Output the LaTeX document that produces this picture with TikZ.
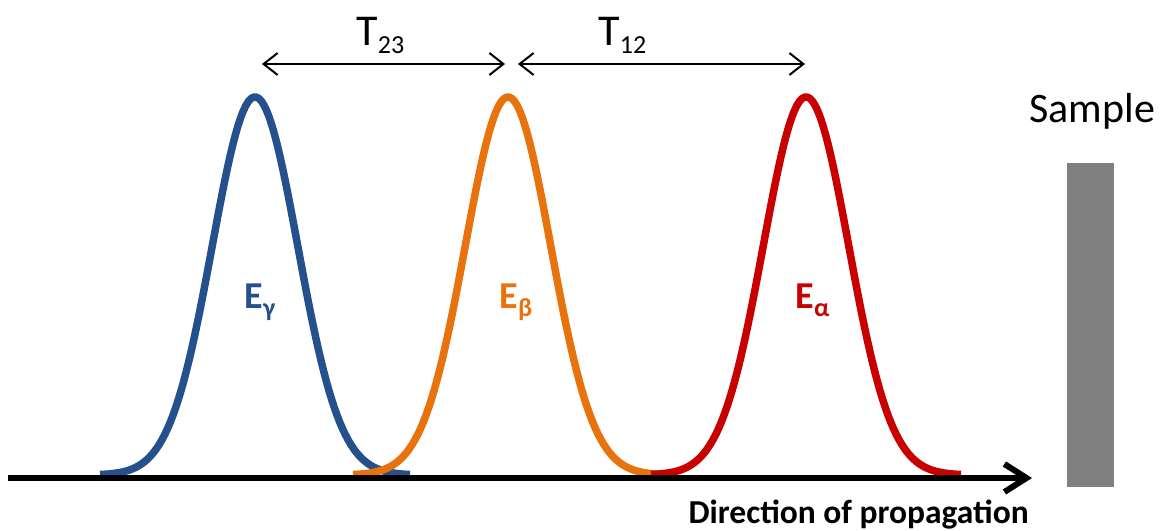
\documentclass[tikz,border=0pt]{standalone}
\usepackage{fontspec}
\setmainfont{Carlito}
\usepackage{xcolor}
\usetikzlibrary{arrows.meta}
\definecolor{pulseblue}{HTML}{24508C}
\definecolor{pulseorange}{HTML}{E8720C}
\definecolor{pulsered}{HTML}{C80000}
\newcommand{\lowsub}[1]{\raisebox{-8pt}{\fontsize{26}{28}\selectfont #1}}

\begin{document}
\begin{tikzpicture}[x=1pt,y=-1pt,
  pulse/.style={line width=7.5pt,line join=round},
  timearrow/.style={line width=2pt,
    {Straight Barb[length=14pt,width=22pt]}-{Straight Barb[length=14pt,width=22pt]}}]
\useasboundingbox (0,0) rectangle (1161,530);
% the three pulses
\draw[pulse,pulseblue] plot[domain=-155:155,samples=120]
  ({255+\x},{475-378*exp(-(\x/60.4)^2)});
\draw[pulse,pulseorange] plot[domain=-155:155,samples=120]
  ({508+\x},{475-378*exp(-(\x/60.4)^2)});
\draw[pulse,pulsered] plot[domain=-155:155,samples=120]
  ({806+\x},{475-378*exp(-(\x/60.4)^2)});
% propagation axis
\coordinate (start) at (8,478);
\coordinate (tip) at (1032,478);
\draw[line width=6pt,-{Straight Barb[length=22pt,width=28pt]}] (start) -- (tip);
\node[anchor=base west,font=\bfseries\fontsize{33.5}{36}\selectfont] (dir) at (685,523)
  {Direction of propagation};
% delays
\coordinate (g) at (262,64);
\coordinate (bl) at (505,64);
\coordinate (br) at (518,64);
\coordinate (a) at (805,64);
\draw[timearrow] (g) -- (bl);
\draw[timearrow] (br) -- (a);
\node[anchor=base west,font=\fontsize{44}{46}\selectfont] (t23) at (353,45) {T\lowsub{23}};
\node[anchor=base west,font=\fontsize{44}{46}\selectfont] (t12) at (595,45) {T\lowsub{12}};
% field labels
\node[anchor=base west,pulseblue,font=\bfseries\fontsize{38}{40}\selectfont] (eg) at (241,308)
  {E\lowsub{γ}};
\node[anchor=base west,pulseorange,font=\bfseries\fontsize{38}{40}\selectfont] (eb) at (496,308)
  {E\lowsub{β}};
\node[anchor=base west,pulsered,font=\bfseries\fontsize{38}{40}\selectfont] (ea) at (792,308)
  {E\lowsub{α}};
% sample
\node[anchor=base west,font=\fontsize{42}{44}\selectfont] (smp) at (1026,122) {Sample};
\fill[gray] (1067,163) rectangle (1114,487);
\end{tikzpicture}
\end{document}
